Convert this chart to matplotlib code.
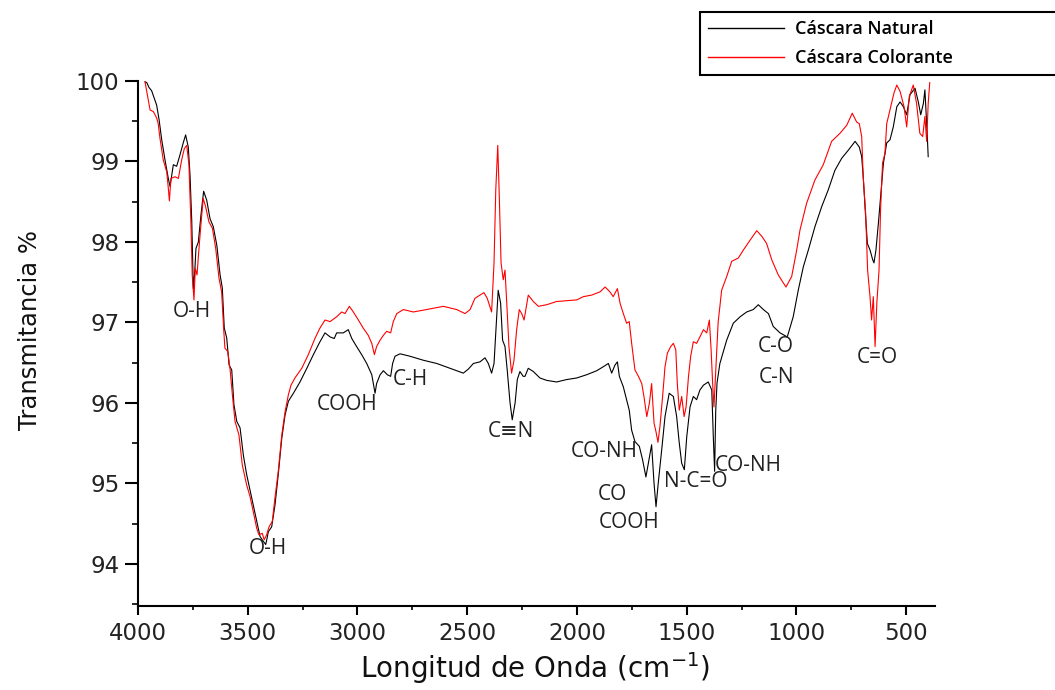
import numpy as np
import matplotlib.pyplot as plt
from matplotlib.ticker import MultipleLocator
from matplotlib.lines import Line2D

# FTIR spectra: wavenumber (cm-1) and transmittance (%)
wn_natural = np.array([
    3968, 3960, 3950, 3938, 3925, 3915, 3904, 3892, 3877, 3862, 3854, 3847, 3839, 3824,
    3809, 3794, 3783, 3771, 3763, 3755, 3748, 3742, 3736, 3725, 3713, 3701, 3687, 3672,
    3657, 3641, 3626, 3616, 3607, 3596, 3585, 3573, 3563, 3550, 3535, 3520, 3505, 3490,
    3475, 3459, 3444, 3429, 3418, 3406, 3391, 3376, 3361, 3345, 3330, 3315, 3292, 3262,
    3231, 3201, 3171, 3148, 3125, 3106, 3095, 3065, 3042, 3026, 3004, 2981, 2958, 2935,
    2920, 2913, 2897, 2882, 2864, 2849, 2840, 2829, 2806, 2761, 2700, 2639, 2579, 2518,
    2495, 2472, 2442, 2419, 2404, 2389, 2378, 2366, 2359, 2348, 2339, 2328, 2318, 2305,
    2295, 2282, 2272, 2260, 2245, 2237, 2222, 2199, 2169, 2138, 2093, 2047, 2001, 1956,
    1910, 1880, 1857, 1842, 1827, 1816, 1807, 1789, 1774, 1762, 1751, 1736, 1716, 1701,
    1686, 1675, 1660, 1649, 1640, 1630, 1614, 1599, 1580, 1561, 1546, 1534, 1523, 1511,
    1500, 1485, 1470, 1455, 1440, 1424, 1402, 1386, 1379, 1373, 1368, 1362, 1349, 1318,
    1288, 1257, 1227, 1197, 1174, 1151, 1128, 1106, 1075, 1042, 1015, 992, 969, 946,
    916, 885, 855, 825, 794, 764, 733, 714, 703, 696, 685, 677, 665, 653,
    647, 638, 627, 617, 604, 589, 574, 559, 543, 528, 513, 498, 483, 460,
    445, 434, 422, 415, 404, 400])
t_natural = np.array([
    99.99, 99.98, 99.92, 99.88, 99.78, 99.70, 99.52, 99.27, 99.02, 98.79, 98.69, 98.82, 98.96, 98.94,
    99.08, 99.23, 99.33, 99.18, 98.83, 98.25, 97.42, 97.60, 97.92, 98.00, 98.34, 98.63, 98.52, 98.29,
    98.19, 97.96, 97.59, 97.43, 96.93, 96.81, 96.47, 96.41, 95.98, 95.77, 95.69, 95.35, 95.11, 94.92,
    94.73, 94.53, 94.34, 94.28, 94.24, 94.40, 94.46, 94.73, 95.11, 95.56, 95.85, 96.02, 96.12, 96.26,
    96.43, 96.60, 96.76, 96.87, 96.82, 96.80, 96.87, 96.87, 96.91, 96.80, 96.70, 96.60, 96.49, 96.35,
    96.12, 96.24, 96.35, 96.40, 96.35, 96.33, 96.49, 96.58, 96.61, 96.58, 96.53, 96.49, 96.43, 96.37,
    96.42, 96.49, 96.51, 96.56, 96.49, 96.37, 96.49, 97.07, 97.40, 97.24, 96.78, 96.70, 96.41, 96.00,
    95.79, 96.00, 96.29, 96.39, 96.33, 96.33, 96.43, 96.39, 96.31, 96.28, 96.26, 96.29, 96.31, 96.35,
    96.40, 96.45, 96.49, 96.37, 96.47, 96.51, 96.33, 96.20, 96.04, 95.91, 95.66, 95.52, 95.46, 95.29,
    95.08, 95.25, 95.48, 95.00, 94.71, 95.00, 95.42, 95.83, 96.12, 96.08, 95.83, 95.50, 95.25, 95.17,
    95.58, 95.95, 96.08, 96.04, 96.16, 96.22, 96.26, 96.16, 95.58, 95.15, 95.90, 96.25, 96.49, 96.78,
    96.99, 97.07, 97.13, 97.16, 97.22, 97.16, 97.11, 96.95, 96.87, 96.82, 97.07, 97.40, 97.69, 97.90,
    98.19, 98.44, 98.65, 98.89, 99.04, 99.14, 99.25, 99.18, 99.06, 98.81, 98.31, 97.98, 97.90, 97.78,
    97.74, 97.90, 98.23, 98.56, 98.98, 99.23, 99.27, 99.43, 99.68, 99.74, 99.68, 99.58, 99.83, 99.91,
    99.74, 99.58, 99.72, 99.89, 99.31, 99.06])

wn_colorante = np.array([
    3968, 3953, 3945, 3930, 3915, 3908, 3900, 3885, 3869, 3862, 3857, 3850, 3831, 3816,
    3801, 3789, 3778, 3768, 3759, 3753, 3745, 3739, 3731, 3725, 3716, 3703, 3692, 3677,
    3661, 3646, 3631, 3619, 3610, 3604, 3591, 3581, 3570, 3558, 3540, 3525, 3505, 3490,
    3475, 3459, 3449, 3434, 3425, 3414, 3403, 3388, 3376, 3361, 3345, 3330, 3315, 3303,
    3285, 3254, 3224, 3194, 3171, 3148, 3125, 3095, 3072, 3057, 3037, 3019, 2996, 2974,
    2951, 2935, 2923, 2913, 2897, 2882, 2867, 2849, 2837, 2821, 2791, 2746, 2685, 2609,
    2548, 2510, 2487, 2465, 2442, 2424, 2409, 2389, 2378, 2370, 2361, 2354, 2346, 2336,
    2328, 2320, 2310, 2298, 2287, 2275, 2263, 2252, 2241, 2222, 2199, 2176, 2138, 2093,
    2047, 2001, 1971, 1933, 1895, 1872, 1850, 1835, 1816, 1804, 1789, 1774, 1762, 1751,
    1736, 1720, 1705, 1695, 1682, 1670, 1660, 1649, 1640, 1631, 1622, 1610, 1599, 1588,
    1573, 1561, 1550, 1543, 1534, 1523, 1512, 1503, 1492, 1482, 1470, 1455, 1440, 1424,
    1409, 1397, 1389, 1382, 1376, 1367, 1357, 1341, 1318, 1295, 1265, 1242, 1212, 1181,
    1158, 1136, 1113, 1083, 1048, 1022, 999, 984, 954, 916, 878, 840, 802, 771,
    746, 726, 714, 703, 696, 685, 676, 665, 658, 650, 642, 634, 624, 617,
    608, 597, 589, 571, 556, 543, 528, 510, 498, 486, 468, 453, 438, 425,
    415, 407, 400, 393])
t_colorante = np.array([
    99.99, 99.76, 99.64, 99.62, 99.54, 99.47, 99.29, 99.02, 98.87, 98.67, 98.51, 98.79, 98.81, 98.79,
    99.02, 99.16, 99.20, 98.96, 98.25, 97.59, 97.28, 97.67, 97.59, 97.82, 98.13, 98.54, 98.44, 98.25,
    98.17, 97.92, 97.55, 97.38, 96.93, 96.68, 96.64, 96.43, 96.10, 95.77, 95.60, 95.23, 94.98, 94.84,
    94.65, 94.44, 94.36, 94.38, 94.30, 94.36, 94.46, 94.53, 94.82, 95.15, 95.60, 95.89, 96.10, 96.22,
    96.31, 96.43, 96.60, 96.80, 96.93, 97.03, 97.01, 97.07, 97.13, 97.11, 97.20, 97.13, 97.03, 96.93,
    96.84, 96.74, 96.60, 96.70, 96.78, 96.84, 96.89, 96.87, 97.01, 97.11, 97.16, 97.13, 97.16, 97.20,
    97.16, 97.11, 97.16, 97.30, 97.34, 97.37, 97.30, 97.13, 97.74, 98.65, 99.20, 98.56, 97.74, 97.53,
    97.65, 97.24, 96.70, 96.37, 96.53, 96.91, 97.16, 97.11, 97.03, 97.34, 97.26, 97.20, 97.22, 97.26,
    97.27, 97.28, 97.32, 97.34, 97.38, 97.44, 97.38, 97.32, 97.42, 97.24, 97.11, 96.99, 97.01, 96.74,
    96.41, 96.33, 96.24, 96.08, 95.83, 96.00, 96.24, 95.75, 95.64, 95.51, 95.71, 96.08, 96.45, 96.62,
    96.70, 96.74, 96.66, 96.24, 95.91, 96.08, 95.83, 95.95, 96.33, 96.58, 96.76, 96.74, 96.82, 96.91,
    96.87, 97.03, 96.66, 96.24, 95.95, 96.45, 97.00, 97.40, 97.57, 97.76, 97.80, 97.90, 98.02, 98.14,
    98.07, 97.98, 97.78, 97.59, 97.44, 97.57, 97.90, 98.15, 98.48, 98.77, 98.96, 99.25, 99.35, 99.45,
    99.60, 99.49, 99.47, 99.31, 98.81, 98.36, 97.65, 97.32, 97.03, 97.32, 96.70, 97.24, 97.65, 98.40,
    98.98, 99.10, 99.47, 99.68, 99.85, 99.95, 99.87, 99.68, 99.43, 99.81, 99.95, 99.72, 99.35, 99.31,
    99.56, 99.25, 99.72, 99.98])

# band assignments: label, wavenumber, transmittance where the text sits
band_labels = ['O-H', 'O-H', 'COOH', 'C-H', 'C≡N', 'CO-NH', 'CO', 'COOH',
               'N-C=O', 'CO-NH', 'C-O', 'C-N', 'C=O']
band_wn = [3754, 3408, 3048, 2761, 2301, 1877, 1841, 1763, 1458, 1221, 1093, 1093, 633]
band_t = [97.13, 94.19, 95.98, 96.29, 95.65, 95.40, 94.86, 94.51, 95.02, 95.22, 96.70, 96.31, 96.56]

series_names = ['Cáscara Natural', 'Cáscara Colorante']
series_colors = ['black', 'red']

fig = plt.figure(figsize=(10.55, 6.9), dpi=100)
ax = fig.add_axes([138 / 1055, 1 - 605.7 / 690, 797 / 1055, 524.7 / 690])

ax.plot(wn_natural, t_natural, color=series_colors[0], lw=0.8)
ax.plot(wn_colorante, t_colorante, color=series_colors[1], lw=0.8)

ax.set_xlim(4000, 369)
ax.set_ylim(93.48, 100)

for side in ['top', 'right']:
    ax.spines[side].set_visible(False)
for side in ['left', 'bottom']:
    ax.spines[side].set_linewidth(1.5)

ax.xaxis.set_major_locator(MultipleLocator(500))
ax.xaxis.set_minor_locator(MultipleLocator(250))
ax.yaxis.set_major_locator(MultipleLocator(1))
ax.yaxis.set_minor_locator(MultipleLocator(0.5))
ax.tick_params(axis='x', which='major', length=6.5, width=1.5, pad=5)
ax.tick_params(axis='x', which='minor', length=3, width=1.2)
ax.tick_params(axis='y', which='major', length=9.5, width=1.5, pad=4)
ax.tick_params(axis='y', which='minor', length=4.5, width=1.2)
for lab in ax.get_xticklabels() + ax.get_yticklabels():
    lab.set_fontsize(16.5)
    lab.set_color('#222222')

ax.set_xlabel(r'Longitud de Onda (cm$^{\mathregular{-1}}$)', fontsize=20, color='#111111', va='center')
ax.xaxis.set_label_coords(0.498, -0.119)
ax.set_ylabel('Transmitancia %', fontsize=17.5, color='#111111', va='center')
ax.yaxis.set_label_coords(-0.1355, 0.525)

for lab, x, y in zip(band_labels, band_wn, band_t):
    ax.text(x, y, lab, family=['Open Sans', 'DejaVu Sans'], fontsize=15,
            color='#222222', ha='center', va='center')

handles = [Line2D([], [], color=c, lw=1) for c in series_colors]
leg = fig.legend(handles, series_names, loc='upper left',
                 bbox_to_anchor=(700 / 1055, 1 - 12.3 / 690, 0.36, 0.0),
                 mode='expand', fancybox=False, framealpha=1, edgecolor='black',
                 borderaxespad=0, borderpad=0.45, labelspacing=0.6,
                 handlelength=4.2, handletextpad=0.6,
                 prop={'family': 'Open Sans', 'size': 13, 'weight': 'semibold'})
leg.get_frame().set_linewidth(1.5)

fig.savefig('out.png', dpi=100)
